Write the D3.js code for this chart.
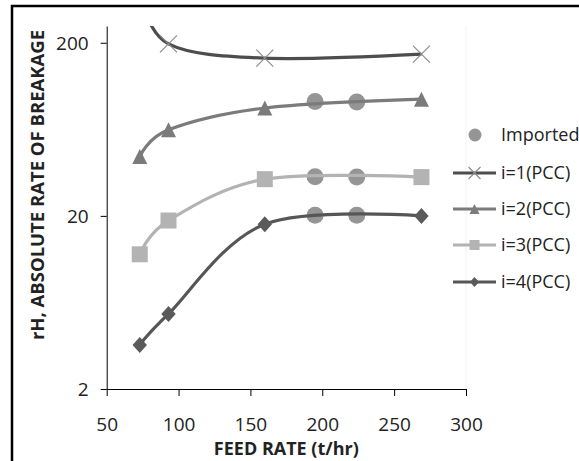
<!DOCTYPE html>
<html>
<head>
<meta charset="utf-8">
<script src="https://cdn.jsdelivr.net/npm/d3@7"></script>
<style>
  body { margin: 0; background: #fff; }
  svg { display: block; font-family: "Open Sans", sans-serif; }
</style>
</head>
<body>
<svg id="chart" width="579" height="461"></svg>
<script>
// valores (t/hr vs rH)
const feedRate = [73, 93, 160, 269]
const pcc1 = [380, 197, 163, 172]
const pcc2 = [44, 62.8, 84, 94.5]
const pcc3 = [12.0, 18.8, 32.6, 33.5]
const pcc4 = [3.59, 5.43, 17.9, 20.0]
const importedX = [195, 224, 195, 224, 195, 224]
const importedY = [91.6, 91, 33.7, 33.5, 20.2, 20.2]
const xTicks = [50, 100, 150, 200, 250, 300]
const yTicks = [2, 20, 200]
const legendNames = ["Imported", "i=1(PCC)", "i=2(PCC)", "i=3(PCC)", "i=4(PCC)"]

const svg = d3.select("#chart")

// marco negro (se sale por la derecha y abajo)
svg.append("rect")
  .attr("x", 12).attr("y", 6)
  .attr("width", 700).attr("height", 600)
  .attr("fill", "#fff")
  .attr("stroke", "#000")
  .attr("stroke-width", 2.5)

const x = d3.scaleLinear().domain([50, 300]).range([106.7, 466])
const y = d3.scaleLog().domain([2, 250]).range([389, 26])

// borde derecho muy tenue del area de grafico
svg.append("line")
  .attr("x1", x(300)).attr("x2", x(300))
  .attr("y1", y(250)).attr("y2", y(2))
  .attr("stroke", "#f2f2f2")

svg.append("defs").append("clipPath").attr("id", "plot")
  .append("rect")
  .attr("x", x(50)).attr("y", y(250))
  .attr("width", x(300) - x(50)).attr("height", y(2) - y(250))

// ejes
const xAxis = svg.append("g")
  .attr("transform", `translate(0, ${y(2)})`)
  .call(d3.axisBottom(x).tickValues(xTicks).tickSizeInner(7).tickSizeOuter(0).tickPadding(22))
const yAxis = svg.append("g")
  .attr("transform", `translate(${x(50)}, 0)`)
  .call(d3.axisLeft(y).tickValues(yTicks).tickFormat(d3.format("d")).tickSizeInner(6).tickSizeOuter(0).tickPadding(12))

for (const ax of [xAxis, yAxis]) {
  ax.select(".domain").attr("stroke", "#000").attr("stroke-width", 1)
  ax.selectAll(".tick line").attr("stroke", "#000")
  ax.selectAll("text").attr("fill", "#222").attr("font-size", 19).attr("font-family", "Open Sans")
}
yAxis.selectAll("text").attr("dy", "0.36em")

// titulos de ejes
svg.append("text")
  .attr("x", (x(50) + x(300)) / 2)
  .attr("y", 455)
  .attr("text-anchor", "middle")
  .attr("font-size", 18).attr("font-weight", "bold").attr("fill", "#222")
  .text("FEED RATE (t/hr)")

svg.append("text")
  .attr("transform", "rotate(-90)")
  .attr("x", -185)
  .attr("y", 44)
  .attr("text-anchor", "middle")
  .attr("font-size", 18.5).attr("font-weight", "bold").attr("fill", "#222")
  .text("rH, ABSOLUTE RATE OF BREAKAGE")

// series
const series = [
  { ys: pcc1, color: "#4d4d4d", marker: "cross", mcolor: "#8c8c8c" },
  { ys: pcc2, color: "#7b7b7b", marker: "triangle", mcolor: "#7b7b7b" },
  { ys: pcc3, color: "#b3b3b3", marker: "square", mcolor: "#b3b3b3" },
  { ys: pcc4, color: "#565656", marker: "diamond", mcolor: "#5a5a5a" }
]

const importedColor = "#959595"

// los circulos "Imported" van primero (las lineas pasan encima)
svg.append("g").selectAll("circle")
  .data(importedX.map((d, i) => [d, importedY[i]]))
  .join("circle")
  .attr("cx", d => x(d[0]))
  .attr("cy", d => y(d[1]))
  .attr("r", 8.5)
  .attr("fill", importedColor)

const line = d3.line()
  .x(d => x(d[0]))
  .y(d => y(d[1]))
  .curve(d3.curveCardinal.tension(0))

function drawMarker(g, type, cx, cy, size, color) {
  const s = size / 2
  if (type === "cross") {
    g.append("path")
      .attr("d", `M${cx - s},${cy - s}L${cx + s},${cy + s}M${cx - s},${cy + s}L${cx + s},${cy - s}`)
      .attr("stroke", color).attr("stroke-width", 1.2).attr("fill", "none")
  } else if (type === "triangle") {
    g.append("path")
      .attr("d", `M${cx},${cy - s}L${cx + s},${cy + s}L${cx - s},${cy + s}Z`)
      .attr("fill", color)
  } else if (type === "square") {
    g.append("rect")
      .attr("x", cx - s).attr("y", cy - s)
      .attr("width", size).attr("height", size)
      .attr("fill", color)
  } else if (type === "diamond") {
    g.append("path")
      .attr("d", `M${cx},${cy - s}L${cx + s * 0.9},${cy}L${cx},${cy + s}L${cx - s * 0.9},${cy}Z`)
      .attr("fill", color)
  } else if (type === "circle") {
    g.append("circle").attr("cx", cx).attr("cy", cy).attr("r", s).attr("fill", color)
  }
}

const markerSize = { cross: 17, triangle: 15, square: 16, diamond: 16 }

series.forEach(s => {
  const pts = feedRate.map((d, i) => [d, s.ys[i]])
  svg.append("path")
    .datum(pts)
    .attr("clip-path", "url(#plot)")
    .attr("d", line)
    .attr("fill", "none")
    .attr("stroke", s.color)
    .attr("stroke-width", 3.2)
  const g = svg.append("g")
  pts.forEach(p => {
    if (y(p[1]) < y(250)) return
    drawMarker(g, s.marker, x(p[0]), y(p[1]), markerSize[s.marker], s.mcolor)
  })
})

// leyenda
const legendY = [135, 173, 209, 245, 282]
const leg = svg.append("g")
legendNames.forEach((name, i) => {
  const ly = legendY[i]
  if (i === 0) {
    drawMarker(leg, "circle", 475, ly, 13, importedColor)
  } else {
    const s = series[i - 1]
    leg.append("line")
      .attr("x1", 453).attr("x2", 496)
      .attr("y1", ly).attr("y2", ly)
      .attr("stroke", s.color).attr("stroke-width", 3.2)
    drawMarker(leg, s.marker, 474.5, ly, s.marker === "cross" ? 12 : 10, s.mcolor)
  }
  leg.append("text")
    .attr("x", 501)
    .attr("y", ly)
    .attr("dy", "0.36em")
    .attr("font-size", 18)
    .attr("fill", "#222")
    .text(name)
})
</script>
</body>
</html>
